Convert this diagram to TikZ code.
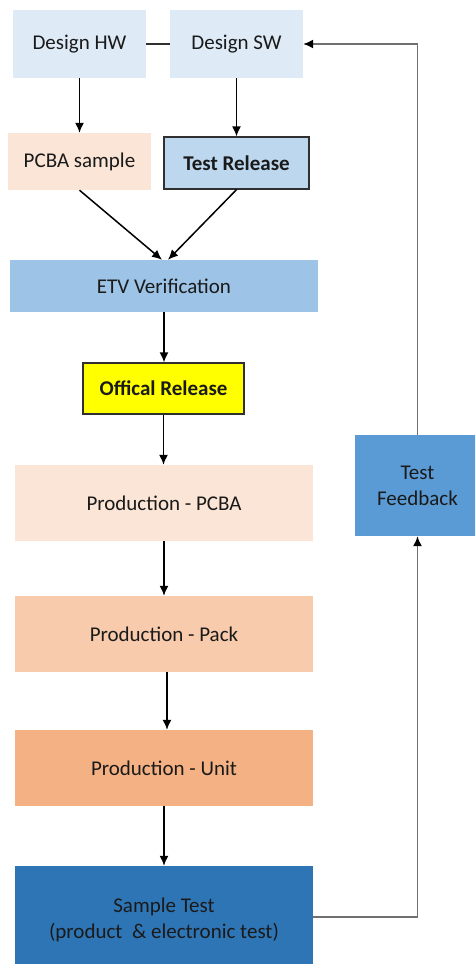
\documentclass[tikz,border=0pt]{standalone}
\usepackage{fontspec}
\setmainfont{Carlito}
\usetikzlibrary{arrows.meta,calc}
\definecolor{cHW}{HTML}{DEEBF7}
\definecolor{cPC}{HTML}{FBE5D6}
\definecolor{cTR}{HTML}{BDD7EE}
\definecolor{cETV}{HTML}{9DC3E6}
\definecolor{cOFF}{HTML}{FFFF00}
\definecolor{cPK}{HTML}{F8CBAD}
\definecolor{cPU}{HTML}{F4B183}
\definecolor{cST}{HTML}{2E75B6}
\definecolor{cTF}{HTML}{5B9BD5}
\definecolor{cTXT}{HTML}{1A1A1A}
\definecolor{cLN}{HTML}{303030}
\definecolor{cFB}{HTML}{707070}
\tikzset{
  box/.style={rectangle, inner sep=0pt, align=center, text=cTXT,
    font=\fontsize{21}{26}\selectfont},
  framed/.style={box, draw=cLN, line width=1.3pt, font=\fontsize{21}{26}\selectfont\bfseries},
  tip/.style={-{Latex[length=10pt,width=9pt]}},
  arr/.style={draw=black, line width=1.5pt, tip},
  plain/.style={draw=cLN, line width=1.5pt},
  fb/.style={draw=cFB, line width=1.8pt}
}
\begin{document}
\begin{tikzpicture}[x=1pt,y=-1pt]
\useasboundingbox (0,0) rectangle (475,964);
\clip (0,0) rectangle (475,964);
\node[box, fill=cHW, minimum width=133pt, minimum height=68pt] (hw) at (79.5,44) {Design HW};
\node[box, fill=cHW, minimum width=133pt, minimum height=68pt] (sw) at (236.5,44) {Design SW};
\node[box, fill=cPC, minimum width=143pt, minimum height=57pt] (pcba) at (79.5,161.5) {PCBA sample};
\node[framed, fill=cTR, minimum width=145pt, minimum height=52pt] (tr) at (236.5,163) {Test Release};
\node[box, fill=cETV, minimum width=308pt, minimum height=52pt] (etv) at (164,286) {ETV Verification};
\node[framed, fill=cOFF, minimum width=161pt, minimum height=51pt] (off) at (163.5,388.5) {Offical Release};
\node[box, fill=cPC, minimum width=298pt, minimum height=76pt] (pp) at (164,503) {Production - PCBA};
\node[box, fill=cPK, minimum width=298pt, minimum height=76pt] (pk) at (164,634) {Production - Pack};
\node[box, fill=cPU, minimum width=298pt, minimum height=76pt] (pu) at (164,768) {Production - Unit};
\node[box, fill=cST, minimum width=298pt, minimum height=108pt] (st) at (164,920) {Sample Test\\(product \ \& electronic test)};
\node[box, fill=cTF, minimum width=125pt, minimum height=101pt] (tf) at (417.5,485.5) {Test\\Feedback};
\coordinate (tfin) at ($(tf.south)+(0,10)$);
\coordinate (swin) at ($(sw.east)+(10,0)$);

\draw[plain] (hw.east) -- (sw.west);
\draw[arr] (hw.south) -- (pcba.north);
\draw[arr] (sw.south) -- (tr.north);
\draw[arr] (pcba.south) -- ($(etv.north)+(-2,0)$);
\draw[arr] (tr.south) -- ($(etv.north)+(4,0)$);
\draw[arr] (etv.south) -- (etv.south |- off.north);
\draw[arr] (off.south) -- (off.south |- pp.north);
\draw[arr] (pp.south) -- (pk.north);
\draw[arr] ([xshift=3pt]pk.south) -- ([xshift=3pt]pu.north);
\draw[arr] (pu.south) -- (st.north);
\draw[fb] ([yshift=3pt]st.east) -| (tfin);
\draw[arr] (tfin) -- (tf.south);
\draw[fb] (tf.north) |- (swin);
\draw[arr] (swin) -- (sw.east);
\end{tikzpicture}
\end{document}
